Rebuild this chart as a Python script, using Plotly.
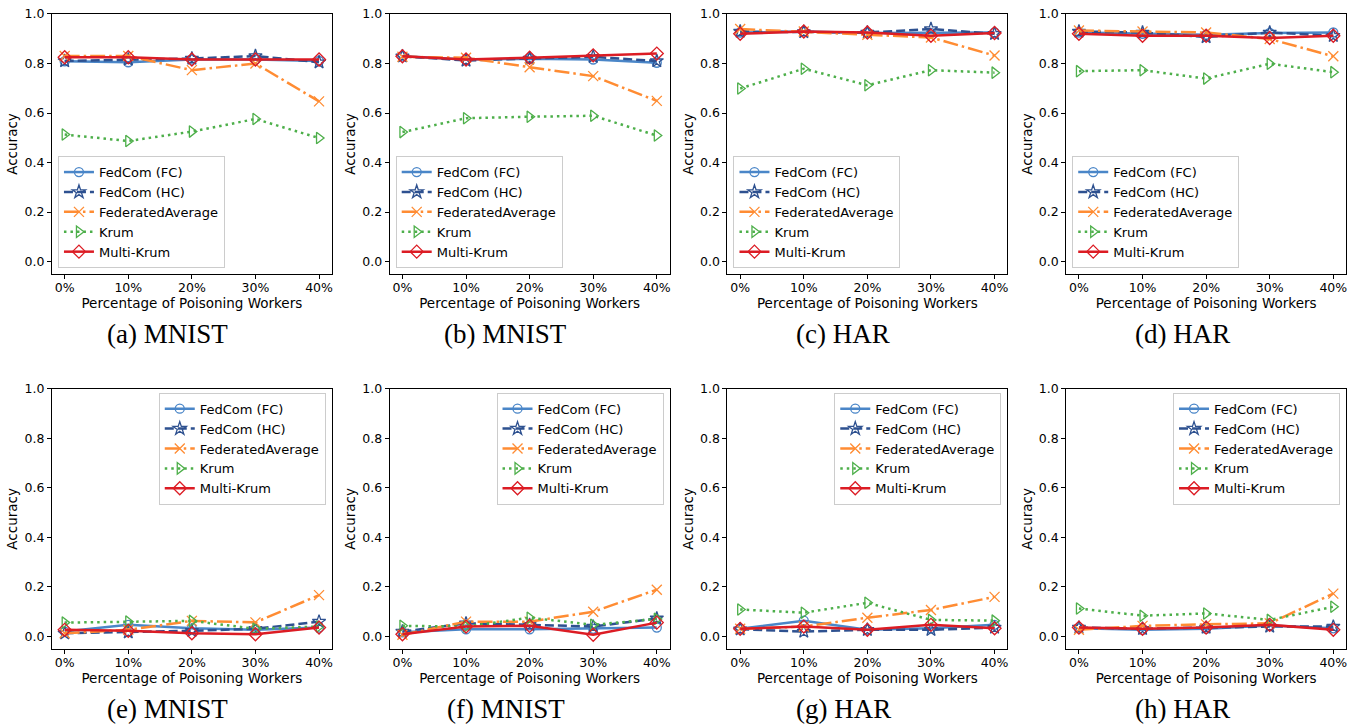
import plotly.graph_objects as go

# ---------------- data ----------------
x_pct = [0, 10, 20, 30, 40]
x_labels = ["0%", "10%", "20%", "30%", "40%"]
y_ticks = [0.0, 0.2, 0.4, 0.6, 0.8, 1.0]
panel_titles = ["(a) MNIST", "(b) MNIST", "(c) HAR", "(d) HAR",
                "(e) MNIST", "(f) MNIST", "(g) HAR", "(h) HAR"]
series_names = ["FedCom (FC)", "FedCom (HC)", "FederatedAverage", "Krum", "Multi-Krum"]

# one row per panel (a..h), values at 0%,10%,20%,30%,40%
fedcom_fc = [
    [0.809, 0.805, 0.816, 0.816, 0.810],
    [0.829, 0.816, 0.819, 0.816, 0.803],
    [0.925, 0.929, 0.923, 0.923, 0.925],
    [0.925, 0.920, 0.916, 0.923, 0.925],
    [0.020, 0.047, 0.033, 0.027, 0.036],
    [0.017, 0.029, 0.029, 0.031, 0.036],
    [0.031, 0.064, 0.027, 0.033, 0.047],
    [0.033, 0.027, 0.031, 0.044, 0.033],
]
fedcom_hc = [
    [0.810, 0.816, 0.820, 0.830, 0.805],
    [0.829, 0.812, 0.820, 0.827, 0.810],
    [0.929, 0.927, 0.925, 0.939, 0.920],
    [0.929, 0.925, 0.907, 0.925, 0.912],
    [0.013, 0.017, 0.023, 0.031, 0.060],
    [0.020, 0.053, 0.047, 0.040, 0.073],
    [0.029, 0.020, 0.027, 0.027, 0.036],
    [0.036, 0.031, 0.036, 0.040, 0.040],
]
federated_average = [
    [0.830, 0.830, 0.773, 0.800, 0.647],
    [0.827, 0.823, 0.785, 0.749, 0.649],
    [0.939, 0.929, 0.916, 0.905, 0.832],
    [0.933, 0.929, 0.925, 0.899, 0.829],
    [0.013, 0.027, 0.063, 0.057, 0.167],
    [0.007, 0.060, 0.060, 0.100, 0.189],
    [0.031, 0.040, 0.076, 0.107, 0.160],
    [0.027, 0.043, 0.049, 0.053, 0.173],
]
krum = [
    [0.513, 0.487, 0.525, 0.576, 0.499],
    [0.523, 0.579, 0.585, 0.589, 0.509],
    [0.699, 0.779, 0.712, 0.773, 0.763],
    [0.769, 0.773, 0.739, 0.799, 0.765],
    [0.056, 0.060, 0.063, 0.031, 0.040],
    [0.043, 0.040, 0.076, 0.047, 0.071],
    [0.109, 0.096, 0.136, 0.067, 0.064],
    [0.113, 0.084, 0.093, 0.067, 0.120],
]
multi_krum = [
    [0.825, 0.825, 0.816, 0.816, 0.816],
    [0.829, 0.816, 0.823, 0.833, 0.840],
    [0.920, 0.929, 0.925, 0.912, 0.923],
    [0.920, 0.912, 0.912, 0.903, 0.912],
    [0.027, 0.023, 0.013, 0.009, 0.036],
    [0.009, 0.040, 0.043, 0.007, 0.056],
    [0.031, 0.040, 0.027, 0.047, 0.033],
    [0.036, 0.031, 0.036, 0.047, 0.027],
]

# ---------------- styles ----------------
all_series = [fedcom_fc, fedcom_hc, federated_average, krum, multi_krum]
colors = ["#4a86c8", "#2e5190", "#ff8c33", "#4daf4a", "#dc1c24"]
dashes = ["solid", "9px,4px", "15px,4px,2.5px,4px", "2.5px,4px", "solid"]
symbols = ["circle-open", "star-open", "x-thin-open", "triangle-right-open", "diamond-open"]
msizes = [9, 10, 10, 10, 10]

W, H = 1368, 728
col_left = [52, 390, 728, 1067]   # page pixel coords
pw = 280
row_top = [6, 385]
ph = 263

FONT = "DejaVu Sans"
fs = 13.5
tick_fs = 12.5

fig = go.Figure()
layout = dict(
    width=W, height=H, margin=dict(l=0, r=0, t=0, b=0),
    paper_bgcolor="white", plot_bgcolor="white",
    font=dict(family=FONT, size=fs, color="black"),
    annotations=[],
)


def px(xp):
    return min(max(xp / W, 0.0), 1.0)


def py(yp):
    return min(max(1 - yp / H, 0.0), 1.0)


for p in range(8):
    r, c = divmod(p, 4)
    k = p + 1
    xa = "x" if k == 1 else f"x{k}"
    ya = "y" if k == 1 else f"y{k}"
    leg = "legend" if k == 1 else f"legend{k}"
    left = col_left[c]
    top = row_top[r]
    for s in range(5):
        fig.add_trace(go.Scatter(
            x=x_pct, y=all_series[s][p], name=series_names[s],
            mode="lines+markers", xaxis=xa, yaxis=ya, legend=leg,
            line=dict(color=colors[s], width=2.5, dash=dashes[s]),
            marker=dict(symbol=symbols[s], size=msizes[s], color=colors[s],
                        line=dict(color=colors[s], width=1.3)),
        ))
    axkw = dict(showline=True, linecolor="black", linewidth=1, mirror=True,
                ticks="outside", ticklen=4, tickwidth=1, tickcolor="black",
                showgrid=False, zeroline=False,
                tickfont=dict(family=FONT, size=tick_fs, color="black"))
    layout["xaxis" if k == 1 else f"xaxis{k}"] = dict(
        domain=[px(left), px(left + pw)], anchor=ya,
        range=[-2, 42], tickvals=x_pct, ticktext=x_labels,
        ticklabelstandoff=-2,
        title=dict(text="Percentage of Poisoning Workers", standoff=3,
                   font=dict(family=FONT, size=fs)),
        **axkw)
    layout["yaxis" if k == 1 else f"yaxis{k}"] = dict(
        domain=[py(top + ph), py(top)], anchor=xa,
        range=[-0.05, 1.0], tickvals=y_ticks, tickformat=".1f",
        title=dict(text="Accuracy", standoff=3, font=dict(family=FONT, size=fs)),
        **axkw)
    if r == 0:
        lpos = dict(x=px(left + 6), xanchor="left", y=py(top + ph - 6), yanchor="bottom")
    else:
        lpos = dict(x=px(left + pw - 6), xanchor="right", y=py(top + 4), yanchor="top")
    layout[leg] = dict(bgcolor="white", bordercolor="#cccccc", borderwidth=1,
                       font=dict(family=FONT, size=13, color="black"),
                       tracegroupgap=0, itemwidth=30, **lpos)
    layout["annotations"].append(dict(
        text=panel_titles[p], xref="paper", yref="paper",
        x=px(left + pw / 2 - 24), y=py(top + ph + 61),
        xanchor="center", yanchor="middle", showarrow=False,
        font=dict(family="Liberation Serif", size=27, color="black")))

fig.update_layout(**layout)
fig.write_html("out.html",
               config={"displayModeBar": False},
               post_script="document.body.style.margin='0';document.body.style.overflow='hidden';")
